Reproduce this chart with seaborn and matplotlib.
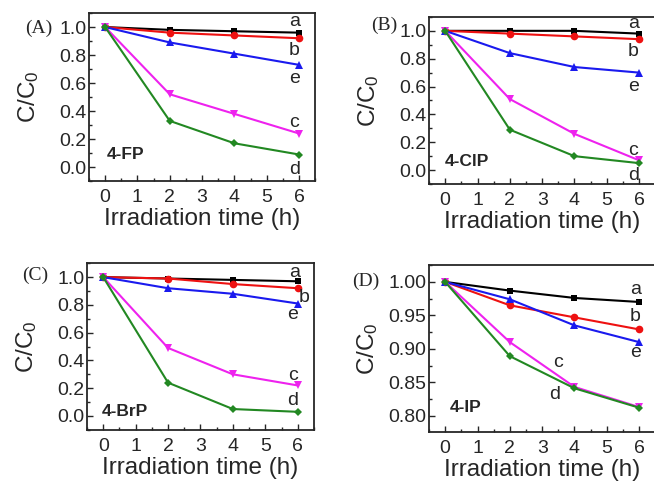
import numpy as np
import pandas as pd
import matplotlib
matplotlib.use("Agg")
import matplotlib.pyplot as plt
import seaborn as sns
from matplotlib.ticker import MultipleLocator

# irradiation time (h)
time = [0, 2, 4, 6]
curves = ['a', 'b', 'e', 'c', 'd']

# C/C0
fp = {'a': [1.0, 0.98, 0.97, 0.96], 'b': [1.0, 0.96, 0.94, 0.92],
      'e': [1.0, 0.89, 0.81, 0.73], 'c': [1.0, 0.52, 0.38, 0.24],
      'd': [1.0, 0.33, 0.17, 0.09]}
clp = {'a': [1.0, 1.0, 1.0, 0.98], 'b': [1.0, 0.98, 0.96, 0.94],
       'e': [1.0, 0.84, 0.74, 0.70], 'c': [1.0, 0.51, 0.26, 0.07],
       'd': [1.0, 0.29, 0.10, 0.05]}
brp = {'a': [1.0, 0.99, 0.98, 0.97], 'b': [1.0, 0.99, 0.95, 0.92],
       'e': [1.0, 0.92, 0.88, 0.81], 'c': [1.0, 0.49, 0.30, 0.22],
       'd': [1.0, 0.24, 0.05, 0.03]}
ip = {'a': [1.0, 0.987, 0.976, 0.970], 'b': [1.0, 0.965, 0.947, 0.929],
      'e': [1.0, 0.974, 0.935, 0.910], 'c': [1.0, 0.910, 0.843, 0.813],
      'd': [1.0, 0.889, 0.841, 0.812]}

colors = {'a': 'black', 'b': '#ee1111', 'e': '#1a1aee', 'c': '#ee22ee', 'd': '#228822'}
markers = {'a': 's', 'b': 'o', 'e': '^', 'c': 'v', 'd': 'D'}
msize = {'a': 5, 'b': 5.5, 'e': 5.5, 'c': 5.5, 'd': 4.5}

sns.set_style("ticks")
plt.rcParams['font.family'] = ['Liberation Sans', 'DejaVu Sans']
plt.rcParams['mathtext.fontset'] = 'custom'
plt.rcParams['mathtext.rm'] = 'Liberation Sans'
plt.rcParams['mathtext.it'] = 'Liberation Sans'

fig = plt.figure(figsize=(6.54, 4.83), dpi=100)

panels = [
    # data, name, letter, rect, ylim, ystep, label positions
    (fp, '4-FP', '(A)', [0.136, 0.625, 0.346, 0.348], (-0.1, 1.1), 0.2, 0.1,
     {'a': (5.85, 1.04), 'b': (5.85, 0.83), 'e': (5.85, 0.63), 'c': (5.85, 0.32), 'd': (5.85, -0.02)},
     (0.05, 0.09), (-0.16, 0.91)),
    (clp, '4-ClP', '(B)', [0.656, 0.619, 0.346, 0.346], (-0.1, 1.1), 0.2, 0.1,
     {'a': (5.82, 1.05), 'b': (5.82, 0.85), 'e': (5.82, 0.60), 'c': (5.82, 0.14), 'd': (5.82, -0.04)},
     (0.0, 0.06), (-0.14, 0.95)),
    (brp, '4-BrP', '(C)', [0.133, 0.110, 0.347, 0.345], (-0.1, 1.1), 0.2, 0.1,
     {'a': (5.9, 1.03), 'b': (6.2, 0.85), 'e': (5.85, 0.73), 'c': (5.85, 0.29), 'd': (5.85, 0.11)},
     (-0.05, 0.035), (-0.17, 0.93)),
    (ip, '4-IP', '(D)', [0.656, 0.106, 0.346, 0.345], (0.776, 1.025), 0.05, 0.025,
     {'a': (5.88, 0.988), 'b': (5.88, 0.948), 'e': (5.88, 0.894), 'c': (3.5, 0.879), 'd': (3.4, 0.831)},
     (0.15, 0.812), (-0.22, 0.90)),
]

for data, name, letter, rect, ylim, ystep, yminor, lab, npos, ppos in panels:
    ax = fig.add_axes(rect)
    df = pd.DataFrame([(t, k, v) for k in curves for t, v in zip(time, data[k])],
                      columns=['time', 'curve', 'ratio'])
    for k in curves:
        sns.lineplot(data=df[df['curve'] == k], x='time', y='ratio', ax=ax,
                     color=colors[k], marker=markers[k], markersize=msize[k],
                     markeredgewidth=0, linewidth=1.5, legend=False)
        ax.text(lab[k][0], lab[k][1], k, fontsize=14, ha='center', va='center')
    ax.set_xlim(-0.5, 6.5)
    ax.set_ylim(*ylim)
    ax.xaxis.set_major_locator(MultipleLocator(1))
    ax.xaxis.set_minor_locator(MultipleLocator(0.5))
    ax.yaxis.set_major_locator(MultipleLocator(ystep))
    ax.yaxis.set_minor_locator(MultipleLocator(yminor))
    if ystep < 0.1:
        ax.yaxis.set_major_formatter(matplotlib.ticker.FormatStrFormatter('%.2f'))
    else:
        ax.yaxis.set_major_formatter(matplotlib.ticker.FormatStrFormatter('%.1f'))
    ax.tick_params(which='both', direction='in', labelsize=14, width=1)
    ax.tick_params(axis='y', pad=2)
    ax.tick_params(axis='x', pad=6)
    ax.tick_params(which='major', length=4)
    ax.tick_params(which='minor', length=2)
    for s in ax.spines.values():
        s.set_linewidth(1.3)
    ax.set_xlabel('Irradiation time (h)', fontsize=17.5, labelpad=1)
    ax.set_ylabel('C/C$_0$', fontsize=17.5, labelpad=6 if ystep < 0.1 else 13)
    ax.text(npos[0], npos[1], name, fontsize=12.5, fontweight='bold', va='center')
    ax.text(ppos[0], ppos[1], letter, transform=ax.transAxes, fontsize=14,
            family='Liberation Serif', ha='right', va='center')

fig.savefig('out.png', dpi=100)
